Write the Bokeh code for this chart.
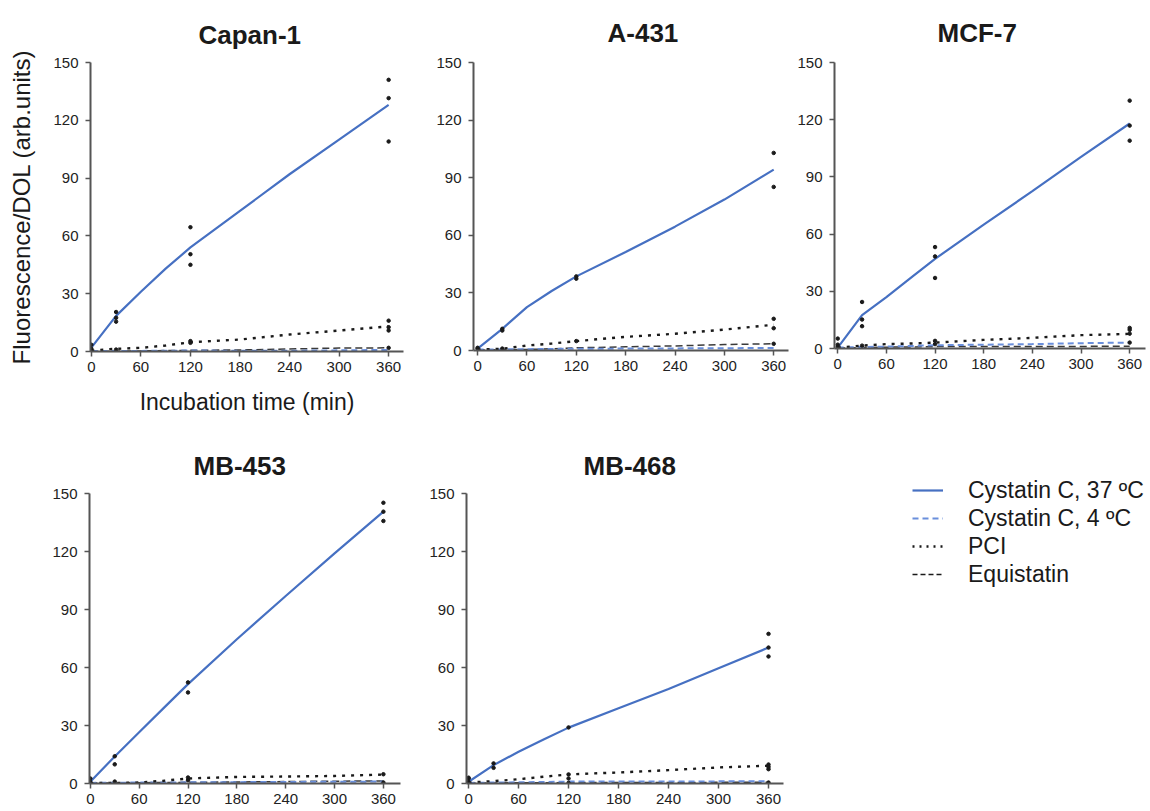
from bokeh.plotting import figure
from bokeh.models import Range1d, FixedTicker, Legend, LegendItem, Spacer
from bokeh.layouts import row, column
from bokeh.embed import file_html
from bokeh.resources import INLINE

# ---------------- data ----------------
panel_names = ["Capan-1", "A-431", "MCF-7", "MB-453", "MB-468"]
x_ticks = [0, 60, 120, 180, 240, 300, 360]
y_ticks = [0, 30, 60, 90, 120, 150]
legend_labels = ["Cystatin C, 37 \u00baC", "Cystatin C, 4 \u00baC", "PCI", "Equistatin"]

t_line = [0, 30, 60, 90, 120, 180, 240, 300, 360]

c37_capan = [2, 18.5, 31, 43, 54, 73, 92, 110, 128]
c37_a431 = [1, 11.3, 22.6, 31, 38.6, 51.3, 64.5, 78.6, 94.2]
c37_mcf7 = [0.5, 17.5, 27, 37, 47, 65, 82.5, 100.5, 118]
c37_mb453 = [0.9, 14, 26.5, 39, 51.4, 74.6, 97, 119, 140.6]
c37_mb468 = [0.9, 9.5, 16.4, 22.8, 28.9, 38.9, 48.9, 59.6, 70.3]

c4_capan = [0.2, 0.3, 0.3, 0.4, 0.5, 0.4, 0.4, 0.6, 0.8]
c4_a431 = [0.5, 0.6, 0.7, 0.8, 0.9, 1.0, 1.1, 1.2, 1.3]
c4_mcf7 = [0.5, 0.8, 1.0, 1.3, 1.7, 2.0, 2.3, 2.8, 3.1]
c4_mb453 = [0.3, 0.4, 0.5, 0.5, 0.6, 0.7, 0.8, 0.9, 1.0]
c4_mb468 = [0.3, 0.5, 0.6, 0.8, 1.0, 1.0, 1.0, 1.1, 1.2]

pci_capan = [0.5, 1.4, 1.9, 3.1, 4.8, 6.2, 8.8, 10.9, 13.0]
pci_a431 = [0.5, 0.9, 2.6, 3.6, 4.9, 7.1, 8.7, 10.9, 13.4]
pci_mcf7 = [0.5, 1.5, 2.3, 2.6, 3.1, 4.5, 5.6, 7.0, 7.7]
pci_mb453 = [0.2, 0.3, 0.5, 1.4, 2.6, 3.4, 3.6, 3.9, 4.6]
pci_mb468 = [0.5, 1.2, 2.2, 3.5, 4.7, 5.7, 6.9, 8.3, 9.2]

equi_capan = [0.1, 0.2, 0.3, 0.5, 0.6, 0.8, 1.3, 1.8, 1.9]
equi_a431 = [0.3, 0.4, 0.5, 0.9, 1.4, 1.9, 2.4, 3.1, 3.5]
equi_mcf7 = [0.3, 0.5, 0.7, 0.8, 1.0, 1.0, 1.0, 1.1, 1.2]
equi_mb453 = [0.2, 0.3, 0.4, 0.5, 0.6, 0.8, 1.0, 1.2, 1.3]
equi_mb468 = [0.2, 0.3, 0.4, 0.4, 0.5, 0.5, 0.5, 0.6, 0.6]

# replicate measurements (time, value)
rep_t_capan = [0, 0, 30, 30, 30, 120, 120, 120, 360, 360, 360, 120, 120, 360, 360, 360, 360, 0, 30]
rep_y_capan = [1.5, 3.5, 20.5, 17.5, 15.5, 64.5, 50.5, 45, 141, 131.5, 109, 5.4, 4.5, 16, 12.6, 10.9, 1.9, 0.5, 1.0]
rep_t_a431 = [0, 0, 30, 30, 120, 120, 360, 360, 360, 360, 360, 120, 30]
rep_y_a431 = [1.4, 0.9, 11.3, 10.4, 38.6, 37.4, 102.9, 85.2, 16.5, 11.6, 3.5, 4.9, 1.0]
rep_t_mcf7 = [0, 0, 30, 30, 30, 120, 120, 120, 360, 360, 360, 360, 360, 360, 360, 120, 120, 30, 0]
rep_y_mcf7 = [5.2, 0.9, 24.4, 15.2, 11.7, 53.2, 48.3, 37, 130, 116.9, 109, 10.8, 9.8, 7.8, 3.1, 4, 2.3, 1.5, 2]
rep_t_mb453 = [0, 0, 30, 30, 120, 120, 360, 360, 360, 360, 360, 120, 120, 30]
rep_y_mb453 = [2.6, 0.9, 14.1, 9.9, 52.3, 47.1, 145.2, 140.6, 135.8, 4.8, 0.5, 3.1, 1.7, 1.0]
rep_t_mb468 = [0, 0, 30, 30, 120, 360, 360, 360, 360, 360, 360, 360, 120, 120, 120, 0]
rep_y_mb468 = [2.6, 0.9, 10.4, 8.1, 29, 77.4, 70.3, 65.7, 9.8, 8.6, 7.4, 0.5, 4.7, 2.6, 0.3, 3]

# ---------------- styles ----------------
FONT = "Liberation Sans"
BLUE = "#4670c2"
BLUE4 = "#6a8fdc"
DARK = "#1a1a1a"
AXIS = "#555555"

STY_C37 = dict(line_color=BLUE, line_width=2.2)
STY_C4 = dict(line_color=BLUE4, line_width=2, line_dash="6 4")
STY_PCI = dict(line_color=DARK, line_width=2.4, line_dash="3 6")
STY_EQ = dict(line_color="#3a3a3a", line_width=1.5, line_dash="7 4")


def panel(name, c37, c4, pci, equi, rt, ry, fw, fh, bl, br, bt, bb, xr,
          title_off, title_standoff, labels=False):
    p = figure(frame_width=fw, frame_height=fh,
               x_range=Range1d(*xr), y_range=Range1d(0, 150),
               min_border_left=bl, min_border_right=br,
               min_border_top=bt, min_border_bottom=bb,
               output_backend="svg", toolbar_location=None, title=name)
    p.outline_line_color = None
    p.grid.visible = False
    p.background_fill_color = "white"
    p.border_fill_color = "white"
    p.title.align = "left"
    p.title.text_font = FONT
    p.title.text_font_size = "26px"
    p.title.text_font_style = "bold"
    p.title.text_color = DARK
    p.title.offset = title_off
    p.title.standoff = title_standoff
    for ax in (p.xaxis[0], p.yaxis[0]):
        ax.axis_line_color = AXIS
        ax.axis_line_width = 2
        ax.major_tick_line_color = AXIS
        ax.major_tick_line_width = 1.5
        ax.major_tick_out = 5
        ax.major_tick_in = 0
        ax.minor_tick_line_color = None
        ax.major_label_text_font = FONT
        ax.major_label_text_font_size = "15px"
        ax.major_label_text_color = "#222222"
    p.xaxis.ticker = FixedTicker(ticks=x_ticks)
    p.yaxis.ticker = FixedTicker(ticks=y_ticks)
    p.xaxis.major_label_standoff = 5
    p.yaxis.major_label_standoff = 7
    if labels:
        p.yaxis.axis_label = "Fluorescence/DOL (arb.units)"
        p.xaxis.axis_label = "Incubation time (min)"
        for ax in (p.xaxis[0], p.yaxis[0]):
            ax.axis_label_text_font = FONT
            ax.axis_label_text_font_style = "normal"
            ax.axis_label_text_color = DARK
        p.yaxis.axis_label_text_font_size = "24px"
        p.xaxis.axis_label_text_font_size = "23px"
        p.xaxis.axis_label_standoff = 14
        p.yaxis.axis_label_standoff = 15

    p.line(t_line, equi, **STY_EQ)
    p.line(t_line, c4, **STY_C4)
    p.line(t_line, pci, **STY_PCI)
    p.line(t_line, c37, **STY_C37)
    p.scatter(rt, ry, size=3.5, color=DARK)
    return p


p1 = panel(panel_names[0], c37_capan, c4_capan, pci_capan, equi_capan, rep_t_capan, rep_y_capan,
           fw=313, fh=289, bl=90, br=30, bt=57, bb=80, xr=(-1, 378), title_off=108, title_standoff=26, labels=True)
p2 = panel(panel_names[1], c37_a431, c4_a431, pci_a431, equi_a431, rep_t_a431, rep_y_a431,
           fw=315, fh=288, bl=40, br=6, bt=62, bb=76, xr=(-5, 378), title_off=134, title_standoff=30)
p3 = panel(panel_names[2], c37_mcf7, c4_mcf7, pci_mcf7, equi_mcf7, rep_t_mcf7, rep_y_mcf7,
           fw=311, fh=286, bl=40, br=3, bt=62, bb=78, xr=(-4, 379.5), title_off=103, title_standoff=30)
p4 = panel(panel_names[3], c37_mb453, c4_mb453, pci_mb453, equi_mb453, rep_t_mb453, rep_y_mb453,
           fw=311, fh=290, bl=89, br=26, bt=66, bb=27, xr=(-1, 381), title_off=104, title_standoff=26)
p5 = panel(panel_names[4], c37_mb468, c4_mb468, pci_mb468, equi_mb468, rep_t_mb468, rep_y_mb468,
           fw=317, fh=290, bl=40, br=10, bt=66, bb=27, xr=(-2.5, 378), title_off=117, title_standoff=26)

# legend panel: a small figure whose frame holds only the legend
nan = float("nan")
pl = figure(frame_width=240, frame_height=130, x_range=Range1d(0, 1), y_range=Range1d(0, 1),
            min_border=0, output_backend="svg", toolbar_location=None, title=None,
            x_axis_location=None, y_axis_location=None)
pl.outline_line_color = None
pl.grid.visible = False
r1 = pl.line(x=[nan], y=[nan], **STY_C37)
r2 = pl.line(x=[nan], y=[nan], **STY_C4)
r3 = pl.line(x=[nan], y=[nan], line_color=DARK, line_width=2.4, line_dash="2 5")
r4 = pl.line(x=[nan], y=[nan], line_color=DARK, line_width=1.5, line_dash="5 3")
leg = Legend(items=[LegendItem(label=legend_labels[i], renderers=[r]) for i, r in enumerate([r1, r2, r3, r4])],
             location="top_left")
leg.glyph_width = 31
leg.glyph_height = 28
leg.label_standoff = 25
leg.label_text_font = FONT
leg.label_text_font_size = "23px"
leg.label_text_color = DARK
leg.label_height = 28
leg.spacing = 0
leg.padding = 2
leg.margin = 0
leg.border_line_alpha = 0
leg.background_fill_alpha = 0
pl.add_layout(leg)

legend_block = column(Spacer(width=240, height=47), pl, spacing=0)
layout = column(row(p1, p2, p3, spacing=0),
                row(p4, p5, Spacer(width=117, height=10), legend_block, spacing=0),
                spacing=0)

open("out.html", "w").write(file_html(layout, INLINE))
